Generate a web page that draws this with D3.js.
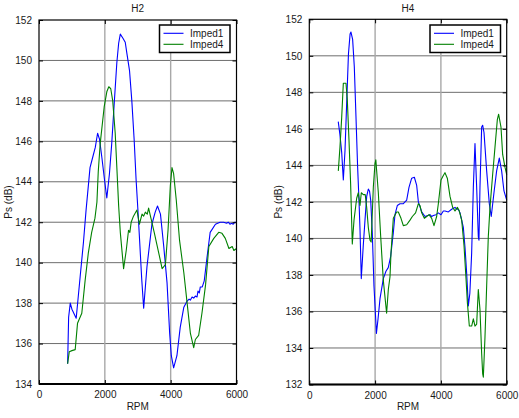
<!DOCTYPE html>
<html>
<head>
<meta charset="utf-8">
<script src="https://cdn.jsdelivr.net/npm/d3@7/dist/d3.min.js"></script>
<style>
  html, body { margin: 0; padding: 0; background: #fff; }
  svg { display: block; font-family: "Liberation Sans", Arial, Helvetica, sans-serif; }
</style>
</head>
<body>
<svg id="chart" width="519" height="418"></svg>
<script>
// Sound pressure vs engine speed, harmonic H2 — [RPM, Ps dB]
const h2Imped1 = [
  [870,135.0],[900,137.3],[950,138.0],[1000,137.7],[1130,137.25],[1250,139.3],[1350,141.0],
  [1430,142.6],[1550,144.7],[1630,145.2],[1710,145.7],[1780,146.4],[1840,146.1],[1910,145.2],
  [1990,144.1],[2060,143.2],[2140,144.4],[2210,145.9],[2290,148.0],[2365,149.9],[2420,150.85],
  [2470,151.3],[2550,151.1],[2620,150.9],[2670,150.35],[2750,149.5],[2820,148.0],[2890,146.1],
  [2950,144.1],[3005,142.6],[3060,141.0],[3120,139.2],[3180,137.75],[3280,139.8],[3430,141.9],
  [3530,142.5],[3600,142.8],[3690,142.4],[3790,140.8],[3890,139.0],[3970,136.5],[4020,135.4],
  [4090,134.8],[4190,135.4],[4290,136.8],[4400,137.8],[4500,138.1],[4560,138.2],[4600,138.15],
  [4650,138.3],[4700,138.25],[4750,138.35],[4800,138.3],[4830,138.6],[4870,138.5],[4900,138.8],
  [4960,138.8],[5020,139.1],[5100,140.2],[5200,141.5],[5360,141.9],[5500,142.0],[5610,142.0],
  [5700,141.95],[5750,142.0],[5800,141.9],[5850,141.95],[5900,141.9],[5950,142.0],[6000,142.0]
];
const h2Imped4 = [
  [870,135.0],[920,135.6],[1000,135.65],[1100,135.7],[1170,137.0],[1300,137.5],[1400,139.1],
  [1500,140.5],[1600,141.5],[1700,142.2],[1760,143.0],[1800,144.5],[1860,145.9],[1980,147.7],
  [2060,148.45],[2120,148.7],[2180,148.6],[2240,148.0],[2315,146.4],[2365,144.7],[2420,142.8],
  [2470,141.5],[2570,139.7],[2650,140.6],[2720,141.6],[2760,141.5],[2800,142.0],[2870,142.3],
  [2975,142.6],[3050,141.9],[3130,142.4],[3180,142.3],[3230,142.5],[3290,142.4],[3330,142.7],
  [3400,142.2],[3500,141.5],[3635,140.5],[3740,139.7],[3840,139.9],[3920,141.6],[3990,143.8],
  [4040,144.7],[4090,144.4],[4170,143.1],[4270,141.1],[4400,139.5],[4500,138.0],[4600,136.5],
  [4700,135.8],[4750,136.2],[4850,136.4],[4950,137.5],[5060,138.9],[5160,140.8],[5310,141.2],
  [5460,141.5],[5560,141.45],[5660,141.2],[5770,140.7],[5870,140.8],[5920,140.6],[6000,140.7]
];

// Harmonic H4 — [RPM, Ps dB]
const h4Imped1 = [
  [880,146.4],[930,145.7],[985,144.7],[1034,143.2],[1085,144.8],[1136,147.4],[1190,150.1],
  [1240,151.2],[1266,151.3],[1317,150.9],[1368,149.4],[1418,146.7],[1469,143.9],[1510,142.1],
  [1541,140.5],[1580,137.8],[1640,139.6],[1693,141.0],[1744,142.3],[1794,142.7],[1830,142.6],
  [1866,142.1],[1915,140.3],[1966,137.4],[2018,135.6],[2040,134.8],[2090,135.6],[2149,136.7],
  [2250,137.8],[2330,138.2],[2400,138.4],[2472,139.0],[2553,140.3],[2604,141.3],[2675,141.8],
  [2756,141.9],[2858,141.9],[2960,142.1],[3030,142.8],[3112,143.3],[3193,143.35],[3264,142.9],
  [3315,142.0],[3416,141.45],[3518,141.2],[3600,141.25],[3669,141.3],[3720,141.2],[3770,141.25],
  [3850,141.3],[3920,141.4],[4003,141.3],[4074,141.5],[4125,141.5],[4226,141.45],[4327,141.6],
  [4429,141.7],[4480,141.6],[4530,141.6],[4581,141.4],[4682,140.6],[4733,139.5],[4783,138.1],
  [4834,136.3],[4880,137.0],[4935,139.2],[4986,142.8],[5036,145.2],[5087,142.8],[5137,140.1],
  [5157,139.9],[5188,142.8],[5239,146.1],[5269,146.2],[5310,145.8],[5391,143.7],[5472,141.9],
  [5530,141.2],[5613,142.5],[5694,143.7],[5775,144.4],[5846,143.7],[5917,142.6],[6000,142.1]
];
const h4Imped4 = [
  [882,143.7],[932,145.0],[984,146.6],[1034,148.5],[1115,148.5],[1155,147.6],[1206,145.4],
  [1256,143.0],[1307,139.7],[1359,141.0],[1440,142.2],[1490,142.5],[1541,141.8],[1581,142.5],
  [1642,142.4],[1700,142.4],[1744,141.7],[1794,140.6],[1845,139.9],[1880,139.8],[1946,142.8],
  [1997,144.1],[2022,144.3],[2098,142.5],[2170,140.1],[2250,137.7],[2350,135.9],[2402,137.2],
  [2453,137.9],[2483,139.2],[2554,141.1],[2654,141.45],[2706,141.45],[2787,141.1],[2858,140.7],
  [2960,140.75],[3061,141.0],[3132,141.2],[3230,141.4],[3315,141.9],[3365,141.8],[3416,141.4],
  [3497,141.1],[3568,141.2],[3640,141.3],[3720,141.1],[3790,140.7],[3871,141.2],[3922,141.9],
  [4003,143.2],[4074,143.45],[4124,143.6],[4195,143.3],[4277,142.3],[4358,141.7],[4429,141.5],
  [4500,141.7],[4560,141.5],[4632,141.0],[4703,139.6],[4763,137.8],[4804,136.5],[4864,135.2],
  [4935,135.2],[4986,135.6],[5036,135.2],[5087,135.3],[5137,137.2],[5188,136.1],[5239,133.7],
  [5269,132.6],[5290,132.4],[5340,134.6],[5391,137.4],[5441,140.1],[5492,141.7],[5573,143.5],
  [5644,145.0],[5715,146.5],[5755,146.8],[5826,146.1],[5877,144.6],[5948,143.9],[6000,143.5]
];

const xTicks = [0, 2000, 4000, 6000];
const h2YTicks = [134, 136, 138, 140, 142, 144, 146, 148, 150, 152];
const h4YTicks = [132, 134, 136, 138, 140, 142, 144, 146, 148, 150, 152];
const seriesNames = ["Imped1", "Imped4"];
const seriesColors = ["#0000ff", "#008000"];

const panels = [
  { title: "H2", series: [h2Imped1, h2Imped4], yDomain: [134, 152], yTicks: h2YTicks,
    left: 39, right: 236.5, top: 20, bottom: 384, legendX: 159.5 },
  { title: "H4", series: [h4Imped1, h4Imped4], yDomain: [132, 152], yTicks: h4YTicks,
    left: 309.3, right: 506.7, top: 19.3, bottom: 384.5, legendX: 430 }
];

const svg = d3.select("#chart");

panels.forEach(p => {
  const x = d3.scaleLinear().domain([0, 6000]).range([p.left, p.right]);
  const y = d3.scaleLinear().domain(p.yDomain).range([p.bottom, p.top]);
  const g = svg.append("g");

  // grid
  g.selectAll(".hgrid").data(p.yTicks.slice(1, -1)).enter().append("line")
    .attr("x1", p.left).attr("x2", p.right)
    .attr("y1", d => y(d)).attr("y2", d => y(d))
    .attr("stroke", "#6e6e6e").attr("stroke-width", 1);
  g.selectAll(".vgrid").data(xTicks.slice(1, -1)).enter().append("line")
    .attr("x1", d => x(d)).attr("x2", d => x(d))
    .attr("y1", p.top).attr("y2", p.bottom)
    .attr("stroke", "#a8a8a8").attr("stroke-width", 1.4);

  // curves
  const line = d3.line().x(d => x(d[0])).y(d => y(d[1]));
  p.series.forEach((s, i) => {
    g.append("path").datum(s).attr("d", line)
      .attr("fill", "none").attr("stroke", seriesColors[i]).attr("stroke-width", 1.1)
      .attr("stroke-linejoin", "round");
  });

  // axes with inward ticks
  const axB = g.append("g").attr("transform", `translate(0,${p.bottom})`)
    .call(d3.axisBottom(x).tickValues(xTicks).tickFormat(d3.format("d")).tickSizeInner(-4).tickSizeOuter(0).tickPadding(7));
  const axT = g.append("g").attr("transform", `translate(0,${p.top})`)
    .call(d3.axisTop(x).tickValues(xTicks).tickFormat("").tickSizeInner(-4).tickSizeOuter(0));
  const axL = g.append("g").attr("transform", `translate(${p.left},0)`)
    .call(d3.axisLeft(y).tickValues(p.yTicks).tickFormat(d3.format("d")).tickSizeInner(-4).tickSizeOuter(0).tickPadding(7));
  const axR = g.append("g").attr("transform", `translate(${p.right},0)`)
    .call(d3.axisRight(y).tickValues(p.yTicks).tickFormat("").tickSizeInner(-4).tickSizeOuter(0));
  [axB, axT, axL, axR].forEach(a => {
    a.select(".domain").remove();
    a.selectAll("line").attr("stroke", "#000");
    a.selectAll("text").attr("font-size", 10).attr("fill", "#1a1a1a")
      .attr("font-family", "'Liberation Sans', Arial, sans-serif");
  });

  // frame
  g.append("rect").attr("x", p.left).attr("y", p.top)
    .attr("width", p.right - p.left).attr("height", p.bottom - p.top)
    .attr("fill", "none").attr("stroke", "#000").attr("stroke-width", 1.2);
  g.append("line").attr("x1", p.left).attr("x2", p.right)
    .attr("y1", p.bottom).attr("y2", p.bottom).attr("stroke", "#000").attr("stroke-width", 1.8);

  // titles
  g.append("text").attr("x", (p.left + p.right) / 2).attr("y", 12)
    .attr("text-anchor", "middle").attr("font-size", 10).attr("fill", "#1a1a1a").text(p.title);
  g.append("text").attr("x", (p.left + p.right) / 2).attr("y", 410)
    .attr("text-anchor", "middle").attr("font-size", 10).attr("fill", "#1a1a1a").text("RPM");
  g.append("text")
    .attr("transform", `translate(${p.left - 27},${(p.top + p.bottom) / 2}) rotate(-90)`)
    .attr("text-anchor", "middle").attr("font-size", 10).attr("fill", "#1a1a1a").text("Ps (dB)");

  // legend
  const lg = g.append("g").attr("transform", `translate(${p.legendX},25)`);
  lg.append("rect").attr("x", 0).attr("y", 0).attr("width", 70.5).attr("height", 27.5)
    .attr("fill", "#fff").attr("stroke", "#000").attr("stroke-width", 1.5);
  seriesNames.forEach((n, i) => {
    const ly = 8.3 + i * 11;
    lg.append("line").attr("x1", 4).attr("x2", 24).attr("y1", ly).attr("y2", ly)
      .attr("stroke", seriesColors[i]).attr("stroke-width", 1.1);
    lg.append("text").attr("x", 30.5).attr("y", ly + 3.5)
      .attr("font-size", 10).attr("fill", "#1a1a1a").text(n);
  });
});
</script>
</body>
</html>
